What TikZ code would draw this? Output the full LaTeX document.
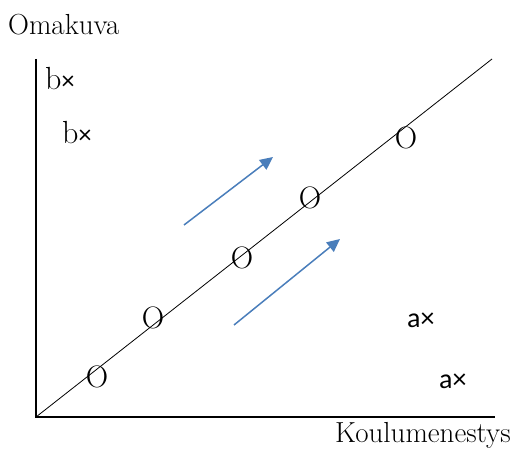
\documentclass[tikz,border=0pt]{standalone}
\usepackage{fontspec}
\newfontfamily\calfont{Carlito}
\usetikzlibrary{arrows.meta}
\definecolor{trendblue}{RGB}{74,126,187}

\begin{document}
\begin{tikzpicture}[
  x=1pt, y=1pt, >={Triangle[length=13pt,width=12pt]},
  axis/.style={line width=1.8pt},
  lbl/.style={font=\fontsize{29}{34}\selectfont, inner sep=0pt, anchor=base west},
  pt/.style={font=\fontsize{31}{34}\selectfont, inner sep=0pt},
  grp/.style={font=\fontsize{32}{36}\selectfont, inner sep=0pt, anchor=base west},
  trend/.style={->, draw=trendblue, fill=trendblue, line width=1.5pt}]
  \useasboundingbox (0,0) rectangle (522,448);
  % axes
  \coordinate (origin) at (36,31);
  \coordinate (ytop) at (36,389);
  \coordinate (xend) at (495,31);
  \coordinate (diagtop) at (492,389);
  \draw[axis] (ytop) -- (origin) -- (xend);
  \draw[line width=0.8pt] (origin) -- (diagtop);
  \node[lbl] (ylab) at (8,413) {Omakuva};
  \node[lbl] (xlab) at (335,6) {Koulumenestys};
  % points on the line
  \node[pt] (o1) at (97,71) {O};
  \node[pt] (o2) at (153,130) {O};
  \node[pt] (o3) at (242,190) {O};
  \node[pt] (o4) at (310,250) {O};
  \node[pt] (o5) at (406,310) {O};
  % groups
  \node[grp] (b1) at (45,358) {b{\calfont\fontsize{26}{30}\selectfont ×}};
  \node[grp] (b2) at (62,305) {b{\calfont\fontsize{26}{30}\selectfont ×}};
  \node[grp, font=\calfont\fontsize{28}{32}\selectfont] (a1) at (407,121) {a×};
  \node[grp, font=\calfont\fontsize{28}{32}\selectfont] (a2) at (439,60) {a×};
  % trend arrows
  \coordinate (up1s) at (184,223);
  \coordinate (up1e) at (273,291);
  \coordinate (up2s) at (234,123);
  \coordinate (up2e) at (340,209);
  \draw[trend] (up1s) -- (up1e);
  \draw[trend] (up2s) -- (up2e);
\end{tikzpicture}
\end{document}
